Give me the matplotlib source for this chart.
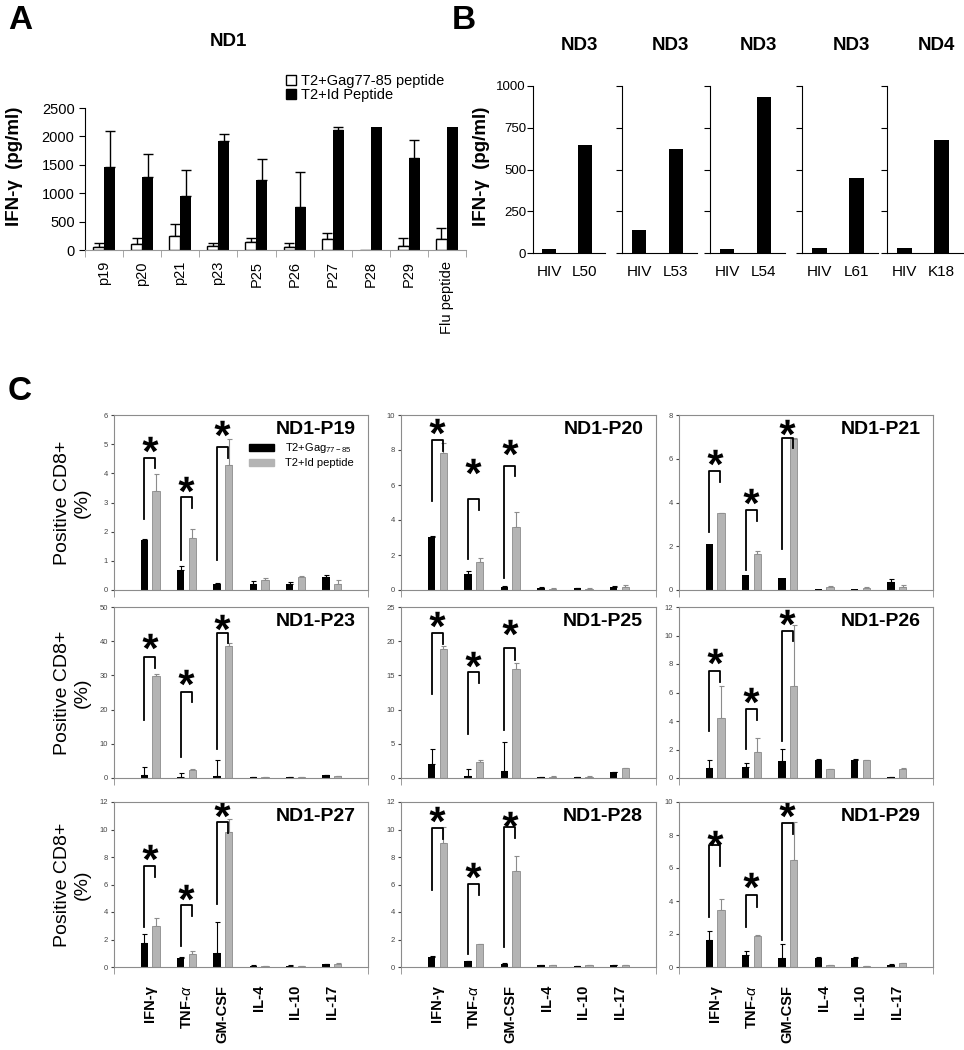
import matplotlib
matplotlib.use('Agg')
import matplotlib.pyplot as plt
import numpy as np
from matplotlib.lines import Line2D
from matplotlib.patches import Patch
from matplotlib.textpath import TextPath
from matplotlib.font_manager import FontProperties
from matplotlib.path import Path

plt.rcParams['font.family'] = ['Liberation Sans', 'DejaVu Sans']
plt.rcParams['mathtext.fontset'] = 'custom'
plt.rcParams['mathtext.rm'] = 'Liberation Sans'
plt.rcParams['mathtext.it'] = 'Liberation Sans:italic'
plt.rcParams['mathtext.bf'] = 'Liberation Sans:bold'

# ---- panel A data
a_peptides = ['p19', 'p20', 'p21', 'p23', 'P25', 'P26', 'P27', 'P28', 'P29', 'Flu peptide']
a_gag = [47, 100, 241, 70, 141, 47, 200, 0, 70, 200]
a_gag_err = [71, 112, 218, 48, 71, 71, 94, 0, 142, 182]
a_id = [1470, 1294, 953, 1912, 1224, 759, 2106, 2159, 1618, 2159]
a_id_err = [630, 394, 459, 129, 382, 606, 53, 0, 311, 0]

# ---- panel B data
b_titles = ['ND3', 'ND3', 'ND3', 'ND3', 'ND4']
b_peptides = ['L50', 'L53', 'L54', 'L61', 'K18']
b_hiv = [26, 139, 24, 30, 30]
b_pep = [647, 624, 932, 448, 675]

# ---- panel C data (rows: panels, cols: cytokines)
c_names = ['ND1-P19', 'ND1-P20', 'ND1-P21', 'ND1-P23', 'ND1-P25', 'ND1-P26',
           'ND1-P27', 'ND1-P28', 'ND1-P29']
c_cytokines = ['IFN-γ', r'TNF-$\alpha$', 'GM-CSF', 'IL-4', 'IL-10', 'IL-17']
c_ymax = [6, 10, 8, 50, 25, 12, 12, 12, 10]
c_ystep = [1, 2, 2, 10, 5, 2, 2, 2, 2]

c_gag = [
    [1.7, 0.7, 0.2, 0.22, 0.22, 0.45],
    [3.05, 0.92, 0.2, 0.12, 0.12, 0.15],
    [2.1, 0.7, 0.55, 0.05, 0.03, 0.38],
    [1.0, 0.4, 0.7, 0.2, 0.3, 0.9],
    [2.0, 0.3, 1.0, 0.15, 0.15, 0.9],
    [0.7, 0.8, 1.2, 1.28, 1.28, 0.05],
    [1.75, 0.65, 1.0, 0.1, 0.1, 0.2],
    [0.75, 0.45, 0.25, 0.15, 0.05, 0.12],
    [1.65, 0.75, 0.55, 0.55, 0.55, 0.12],
]
c_gag_err = [
    [0.05, 0.12, 0.05, 0.08, 0.06, 0.08],
    [0.05, 0.14, 0.03, 0.03, 0.02, 0.08],
    [0, 0, 0, 0, 0, 0.14],
    [2.3, 1.0, 4.5, 0.05, 0.05, 0.1],
    [2.2, 1.0, 4.3, 0.02, 0.02, 0.05],
    [0.55, 0.25, 0.85, 0.04, 0.03, 0.02],
    [0.65, 0.1, 2.3, 0.03, 0.03, 0.05],
    [0.02, 0.02, 0.02, 0.02, 0.01, 0.03],
    [0.55, 0.25, 0.85, 0.05, 0.03, 0.08],
]
c_id = [
    [3.4, 1.8, 4.3, 0.36, 0.43, 0.22],
    [7.85, 1.6, 3.6, 0.08, 0.08, 0.18],
    [3.5, 1.65, 6.9, 0.12, 0.1, 0.15],
    [29.8, 2.3, 38.7, 0.2, 0.3, 0.6],
    [18.8, 2.35, 15.9, 0.2, 0.2, 1.4],
    [4.2, 1.8, 6.45, 0.62, 1.25, 0.62],
    [3.0, 0.92, 9.85, 0.08, 0.08, 0.25],
    [9.0, 1.65, 7.0, 0.15, 0.12, 0.15],
    [3.45, 1.85, 6.5, 0.1, 0.05, 0.22],
]
c_id_err = [
    [0.57, 0.28, 0.87, 0.06, 0.06, 0.12],
    [0.55, 0.24, 0.86, 0.02, 0.02, 0.1],
    [0.04, 0.12, 0.04, 0.05, 0.03, 0.1],
    [0.6, 0.2, 0.7, 0.05, 0.05, 0.1],
    [0.5, 0.25, 0.9, 0.02, 0.02, 0.1],
    [2.25, 1.0, 4.3, 0.03, 0.03, 0.06],
    [0.6, 0.23, 0.9, 0.02, 0.02, 0.06],
    [1.2, 0.03, 1.1, 0.02, 0.02, 0.02],
    [0.65, 0.1, 2.3, 0.03, 0.02, 0.05],
]
# significance brackets: (left leg bottom, top, right leg bottom, asterisk)
c_brackets = [
    [(2.44, 4.54, 4.2, 5.02), (1.02, 3.18, 2.82, 3.64), (1.02, 4.9, 4.54, 5.54)],
    [(5.08, 8.6, 7.97, 9.4), (1.8, 5.22, 4.6, 7.1), (0.7, 7.1, 6.5, 8.16)],
    [(2.66, 5.43, 4.95, 6.1), (0.9, 3.67, 3.17, 4.3), (1.89, 6.96, 6.5, 7.44)],
    [(16.9, 35.4, 32.3, 40.1), (6.05, 25.2, 22.2, 29.5), (8.6, 42.4, 39.4, 45.7)],
    [(12.3, 21.2, 19.6, 23.3), (6.5, 15.5, 13.9, 17.4), (7.0, 19.0, 17.3, 22.1)],
    [(3.28, 7.52, 6.77, 8.55), (2.02, 4.82, 4.08, 5.8), (2.6, 10.34, 9.59, 11.3)],
    [(2.9, 7.32, 6.55, 8.36), (1.5, 4.48, 3.68, 5.45), (4.6, 10.55, 9.75, 11.5)],
    [(5.62, 10.1, 9.33, 11.15), (0.97, 6.06, 5.26, 7.03), (1.45, 10.18, 9.38, 10.8)],
    [(3.06, 7.38, 6.12, 7.79), (2.45, 4.37, 3.66, 5.27), (1.65, 8.75, 8.09, 9.6)],
]

W, H = 964, 1050
fig = plt.figure(figsize=(W / 100, H / 100), dpi=100)


def box(l, t, r, b):
    return [l / W, 1 - b / H, (r - l) / W, (b - t) / H]


def up_err(ax, xs, ys, errs, color, capsize, lw):
    xs, ys, errs = np.asarray(xs), np.asarray(ys, float), np.asarray(errs, float)
    m = errs > 0
    ax.errorbar(xs[m], ys[m], yerr=[np.zeros(m.sum()), errs[m]], fmt='none',
                ecolor=color, elinewidth=lw, capsize=capsize, capthick=lw, zorder=1)


# ================= A =================
axA = fig.add_axes(box(85, 108, 466, 250))
x = np.arange(len(a_peptides))
axA.bar(x - 0.145, a_gag, 0.29, color='white', edgecolor='black', lw=1, zorder=2)
axA.bar(x + 0.145, a_id, 0.29, color='black', zorder=2)
up_err(axA, x - 0.145, a_gag, a_gag_err, 'black', 3.6, 1)
up_err(axA, x + 0.145, a_id, a_id_err, 'black', 3.6, 1)
axA.set_xlim(-0.5, 9.5)
axA.set_ylim(0, 2500)
axA.set_yticks(range(0, 2501, 500))
axA.tick_params(axis='y', labelsize=10.5, length=4, direction='out')
axA.set_xticks(x)
axA.set_xticklabels(a_peptides, rotation=90, fontsize=10.5)
axA.tick_params(axis='x', length=0, pad=8)
axA.set_xticks(np.arange(-0.5, 10, 1), minor=True)
axA.tick_params(axis='x', which='minor', length=5, color='#999999')
for s in ['top', 'right']:
    axA.spines[s].set_visible(False)
axA.spines['bottom'].set_color('#999999')
fig.text(228 / W, 1 - 42 / H, 'ND1', fontsize=13.5, fontweight='bold', ha='center', va='center')
fig.text(15 / W, 1 - 166 / H, 'IFN-γ  (pg/ml)', rotation=90, fontsize=13.5,
         fontweight='bold', ha='center', va='center')
handles = [Line2D([], [], marker='s', ls='none', mfc='white', mec='black', ms=7),
           Line2D([], [], marker='s', ls='none', mfc='black', mec='black', ms=7)]
axA.legend(handles, ['T2+Gag77-85 peptide', 'T2+Id Peptide'], loc='upper left',
           bbox_to_anchor=(285 / W, 1 - 74 / H), bbox_transform=fig.transFigure,
           frameon=False, fontsize=10.5, handlelength=0.8, handletextpad=0.3,
           labelspacing=0.0, borderpad=0, borderaxespad=0)
fig.text(8 / W, 1 - 5 / H, 'A', fontsize=24, fontweight='bold', ha='left', va='top')

# ================= B =================
b_left = [533, 622, 710, 802, 887]
b_right = [605, 697, 785, 878, 963]
for i in range(5):
    ax = fig.add_axes(box(b_left[i], 86, b_right[i], 253))
    ax.bar([0, 1], [b_hiv[i], b_pep[i]], 0.4, color='black')
    ax.set_xlim(-0.46, 1.57)
    ax.set_ylim(0, 1000)
    ax.set_yticks([0, 250, 500, 750, 1000])
    if i == 0:
        ax.set_yticklabels(['0', '250', '500', '750', '1000'])
    else:
        ax.set_yticklabels([])
    ax.tick_params(axis='y', labelsize=9.5, length=4, direction='out', pad=1)
    ax.set_xticks([0, 1])
    ax.set_xticklabels(['HIV', b_peptides[i]], fontsize=11)
    ax.tick_params(axis='x', length=0, pad=9)
    for s in ['top', 'right']:
        ax.spines[s].set_visible(False)
    ax.set_title(b_titles[i], fontsize=13.5, fontweight='bold', pad=26, x=0.65)
fig.text(482 / W, 1 - 166 / H, 'IFN-γ  (pg/ml)', rotation=90, fontsize=13.5,
         fontweight='bold', ha='center', va='center')
fig.text(452 / W, 1 - 5 / H, 'B', fontsize=24, fontweight='bold', ha='left', va='top')

# ================= C =================
# bold asterisk as a marker, centred on its glyph extents
tp = TextPath((0, 0), '*', prop=FontProperties(family='Liberation Sans', weight='bold'))
ext = tp.get_extents()
verts = tp.vertices - [(ext.x0 + ext.x1) / 2, (ext.y0 + ext.y1) / 2]
verts[tp.codes == Path.CLOSEPOLY] = 0
star = Path(verts, tp.codes)

cols = [(114, 368), (401, 656), (679, 933)]
rows = [(415, 590), (607, 778), (802, 967)]
xc = np.arange(len(c_cytokines))
for k in range(9):
    r, c = divmod(k, 3)
    ax = fig.add_axes(box(cols[c][0], rows[r][0], cols[c][1], rows[r][1]))
    ax.bar(xc - 0.16, c_gag[k], 0.2, color='black', zorder=2)
    ax.bar(xc + 0.16, c_id[k], 0.2, color='#b4b4b4', edgecolor='#8c8c8c', lw=0.6, zorder=2)
    up_err(ax, xc - 0.16, c_gag[k], c_gag_err[k], 'black', 1.8, 0.8)
    up_err(ax, xc + 0.16, c_id[k], c_id_err[k], '#8c8c8c', 1.8, 0.8)
    for j, (lo, top, rlo, sy) in enumerate(c_brackets[k]):
        xl, xr = j - 0.16, j + 0.14
        ax.plot([xl, xl, xr, xr], [lo, top, top, rlo], color='black', lw=1.3, zorder=3)
        ax.plot([(xl + xr) / 2], [sy], marker=star, ms=11.5, color='black', ls='none', mew=0)
    ax.set_xlim(-1, 6)
    ax.set_ylim(0, c_ymax[k])
    ax.set_yticks(np.arange(0, c_ymax[k] + 0.01, c_ystep[k]))
    ax.tick_params(axis='y', labelsize=5.5, length=2.5, colors='#444444', pad=2)
    ax.set_xticks(xc)
    if r == 2:
        ax.set_xticklabels(c_cytokines, rotation=90, fontsize=10.5, fontweight='bold')
    else:
        ax.set_xticklabels([])
    ax.tick_params(axis='x', length=0, pad=13)
    ax.set_xticks([-1, 6], minor=True)
    ax.tick_params(axis='x', which='minor', length=5, color='#8c8c8c')
    for s in ax.spines.values():
        s.set_color('#8c8c8c')
        s.set_linewidth(0.8)
    ax.text(0.95, 0.965, c_names[k], transform=ax.transAxes, ha='right', va='top',
            fontsize=14, fontweight='bold')
    if c == 0:
        fig.text(72 / W, 1 - (rows[r][0] + rows[r][1]) / 2 / H, 'Positive CD8+\n(%)',
                 rotation=90, fontsize=14, ha='center', va='center', multialignment='center')
    if k == 0:
        lh = [Patch(color='black'), Patch(facecolor='#b4b4b4', edgecolor='#b4b4b4')]
        ax.legend(lh, [r'T2+Gag$_{\mathregular{77-85}}$', 'T2+Id peptide'], loc='upper left',
                  bbox_to_anchor=(0.53, 0.85), frameon=False, fontsize=8,
                  handlelength=2.3, handleheight=0.6, handletextpad=1.0, labelspacing=0.25,
                  borderpad=0, borderaxespad=0)
fig.text(8 / W, 1 - 376 / H, 'C', fontsize=24, fontweight='bold', ha='left', va='top')

fig.savefig('out.png', dpi=100)
